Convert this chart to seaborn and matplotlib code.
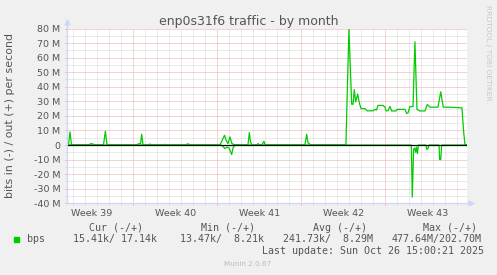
import numpy as np
import pandas as pd
import matplotlib
matplotlib.use("Agg")
import matplotlib.pyplot as plt
import matplotlib.transforms as mtransforms
import seaborn as sns

# ---------------- data ----------------
title = "enp0s31f6 traffic - by month"
ylabel = "bits in (-) / out (+) per second"
# x values: days relative to Monday 29 Sep 2025 00:00 (start of Week 40)
x_start, x_end = -5.55, 27.81
week_labels = ["Week 39", "Week 40", "Week 41", "Week 42", "Week 43"]
week_centers = [-3.5, 3.5, 10.5, 17.5, 24.5]
week_bounds = [0, 7, 14, 21]
ytick_vals = [-40, -30, -20, -10, 0, 10, 20, 30, 40, 50, 60, 70, 80]
ytick_labels = ["-40 M", "-30 M", "-20 M", "-10 M", "0", "10 M", "20 M",
                "30 M", "40 M", "50 M", "60 M", "70 M", "80 M"]

# out (+), Mbit/s
out_days = [-5.55, -5.40, -5.28, -5.15, -3.69, -3.53, -3.36, -3.19, -2.48, -2.33,
            -2.19, 0.31, 0.48, 0.60, 0.70, 0.81, 1.31, 1.39, 1.48, 2.56,
            2.64, 2.73, 4.39, 4.52, 4.64, 4.73, 7.23, 7.39, 7.60, 7.72,
            7.89, 8.06, 8.22, 8.39, 8.56, 9.56, 9.67, 9.77, 9.89, 10.31,
            10.39, 10.48, 10.73, 10.81, 10.89, 10.98, 14.31, 14.45, 14.56, 14.73,
            14.81, 17.72, 17.97, 18.20, 18.31, 18.42, 18.53, 18.70, 18.81, 18.89,
            18.98, 19.31, 19.48, 19.98, 20.14, 20.27, 20.39, 20.81, 20.98, 21.06,
            21.23, 21.39, 21.53, 21.89, 21.98, 22.64, 22.78, 22.89, 23.06, 23.31,
            23.47, 23.64, 23.89, 24.31, 24.50, 24.73, 25.39, 25.62, 25.83, 26.14,
            26.81, 27.39, 27.52, 27.64, 27.81]
out_mbps = [0.2, 0.2, 9.0, 0.2, 0.2, 1.0, 0.6, 0.2, 0.2, 9.5,
            0.2, 0.2, 1.0, 0.8, 7.4, 0.2, 0.2, 0.7, 0.2, 0.2,
            0.5, 0.2, 0.2, 0.8, 0.5, 0.2, 0.2, 3.0, 6.7, 3.5,
            1.0, 5.6, 1.0, 0.3, 0.2, 0.2, 8.6, 2.0, 0.2, 0.2,
            1.0, 0.2, 0.2, 1.5, 2.6, 0.2, 0.2, 7.4, 1.5, 0.5,
            0.2, 0.2, 79.4, 28.0, 28.0, 38.0, 29.6, 35.0, 30.0, 27.4,
            25.0, 25.0, 23.5, 23.5, 24.5, 24.0, 27.2, 27.2, 26.0, 23.5,
            23.5, 26.5, 23.4, 23.4, 24.5, 24.5, 21.7, 22.0, 26.4, 26.4,
            70.9, 24.5, 23.4, 23.4, 27.8, 26.0, 26.0, 36.5, 26.0, 26.0,
            25.8, 25.5, 10.0, 0.3, 0.3]

# in (-), Mbit/s (magnitude, drawn below zero)
in_days = [-5.55, 7.31, 7.48, 7.64, 7.81, 7.98, 8.20, 8.31, 8.47, 23.17,
           23.25, 23.36, 23.45, 23.53, 23.60, 23.68, 23.76, 24.39, 24.47, 24.56,
           24.64, 25.48, 25.53, 25.62, 25.70, 27.81]
in_mbps = [0.0, 0.0, 1.0, 2.4, 1.5, 2.0, 6.5, 2.0, 0.0, 0.0,
           35.7, 3.0, 2.0, 5.0, 1.5, 5.9, 0.0, 0.0, 3.0, 2.5,
           0.0, 0.0, 10.0, 10.0, 0.0, 0.0]

legend_name = "bps"
legend_headers = ["Cur (-/+)", "Min (-/+)", "Avg (-/+)", "Max (-/+)"]
legend_values = ["15.41k/ 17.14k", "13.47k/  8.21k", "241.73k/  8.29M", "477.64M/202.70M"]
last_update = "Last update: Sun Oct 26 15:00:21 2025"
munin_ver = "Munin 2.0.67"
watermark = "RRDTOOL / TOBI OETIKER"

# ---------------- style ----------------
W, H = 497, 275
BACK = "#F0F0F0"
FONT = "#555555"
AXISC = "#CFD6F8"
GREEN = "#00CC00"
MGRID = "#EBA8A8"
GRID = "#D6D6D6"

plt.rcParams["font.family"] = ["DejaVu Sans"]

fig = plt.figure(figsize=(W / 100, H / 100), dpi=100, facecolor=BACK)

def fx(px):
    return px / W

def fy(py):
    return 1 - py / H

L, R, T, B = 66.7, 467.0, 28.5, 203.3
ax = fig.add_axes([fx(L), fy(B), fx(R) - fx(L), fy(T) - fy(B)])
ax.set_facecolor("white")

df_out = pd.DataFrame({"day": out_days, "bps": out_mbps})
df_in = pd.DataFrame({"day": in_days, "bps": [-v for v in in_mbps]})

ax.set_axisbelow(True)
sns.lineplot(data=df_in, x="day", y="bps", color=GREEN, lw=0.9, ax=ax, zorder=3)
sns.lineplot(data=df_out, x="day", y="bps", color=GREEN, lw=0.9, ax=ax, zorder=3)
ax.axhline(0, color="black", lw=0.9, zorder=4)

ax.set_xlim(x_start, x_end)
ax.set_ylim(-40, 80)
ax.set_xlabel("")
ax.set_ylabel("")

# y ticks / grid
ax.set_yticks(ytick_vals)
ax.set_yticklabels(ytick_labels)
ax.set_yticks(np.arange(-35, 80, 10), minor=True)
# x ticks / grid
ax.set_xticks(week_bounds)
ax.set_xticklabels([""] * len(week_bounds))
ax.set_xticks(np.arange(-5, 28, 1), minor=True)

ax.tick_params(axis="both", which="major", length=1.5, width=0.72, color=MGRID,
               labelsize=6.8, labelcolor=FONT)
ax.tick_params(axis="both", which="minor", length=1.5, width=0.72, color=GRID)
ax.tick_params(axis="y", which="major", pad=3.2)

dot = (0, (1, 1))
ax.grid(which="minor", color=GRID, lw=0.72, ls=dot)
ax.grid(which="major", color=MGRID, lw=0.72, ls=dot)

for s in ["top", "right"]:
    ax.spines[s].set_visible(False)
for s in ["left", "bottom"]:
    ax.spines[s].set_color(AXISC)
    ax.spines[s].set_linewidth(0.9)
    ax.spines[s].set_zorder(5)

# axis arrows (RRDtool style)
ax.plot([0, 0], [1, 1.035], color=AXISC, lw=0.9, transform=ax.transAxes, clip_on=False)
ax.plot([0], [1.035], marker="^", ms=3.5, color=AXISC, mec=AXISC,
        transform=ax.transAxes, clip_on=False)
ax.plot([1, 1.01], [0, 0], color=AXISC, lw=0.9, transform=ax.transAxes, clip_on=False)
ax.plot([1.01], [0], marker=">", ms=3.5, color=AXISC, mec=AXISC,
        transform=ax.transAxes, clip_on=False)

# week labels
trans = mtransforms.blended_transform_factory(ax.transData, fig.transFigure)
for xc, lab in zip(week_centers, week_labels):
    ax.text(xc, fy(216), lab, transform=trans, ha="center", va="baseline",
            fontsize=6.8, color=FONT)

# titles
fig.text(fx(248.3), fy(25), title, ha="center", va="baseline", fontsize=9, color=FONT)
fig.text(fx(10.5), fy(115), ylabel, rotation=90, ha="center", va="center",
         fontsize=7.9, color=FONT)
fig.text(fx(487.7), fy(53.3), watermark, rotation=-90, ha="center", va="center",
         fontsize=5.4, color="#C8C8C8")

# legend block
mono = "DejaVu Sans Mono"
fig.patches.append(plt.Rectangle((fx(14), fy(242.3)), fx(5.3), fy(237) - fy(242.3),
                                 transform=fig.transFigure, color=GREEN, zorder=5))
fig.text(fx(26.7), fy(242.3), legend_name, family=mono, fontsize=7.2, color=FONT,
         ha="left", va="baseline")
for xs, h in zip([89.3, 201.0, 312.7, 422.7], legend_headers):
    fig.text(fx(xs), fy(230.7), h, family=mono, fontsize=7.2, color=FONT,
             ha="left", va="baseline")
for xs, v in zip([72.7, 180.0, 283.3, 391.7], legend_values):
    fig.text(fx(xs), fy(242.3), v, family=mono, fontsize=7.2, color=FONT,
             ha="left", va="baseline")
fig.text(fx(261.7), fy(254), last_update, family=mono, fontsize=7.2, color=FONT,
         ha="left", va="baseline")
fig.text(fx(248), fy(266), munin_ver, fontsize=5.2, color="#BBBBBB",
         ha="center", va="baseline")

fig.savefig("out.png", dpi=100, facecolor=BACK)
